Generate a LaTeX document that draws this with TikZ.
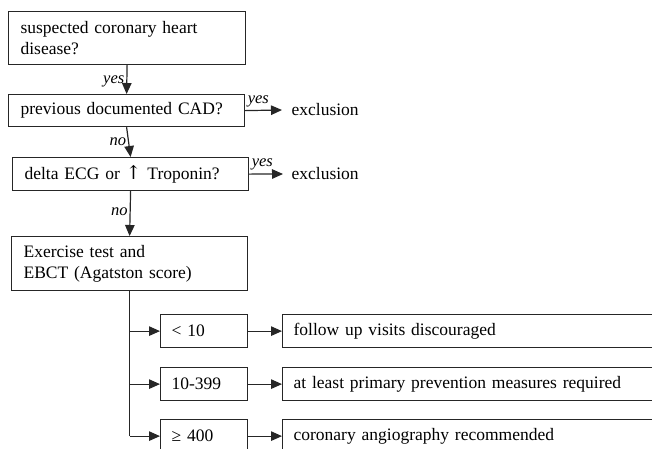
\documentclass[tikz,border=0pt]{standalone}
\usepackage{fontspec}
\setmainfont{Liberation Serif}
\newfontfamily\arrowfont{DejaVu Serif}
\usetikzlibrary{arrows.meta}
\begin{document}
\begin{tikzpicture}[x=1pt,y=-1pt,
  font=\fontsize{17.5}{21}\selectfont,
  line width=1.2pt, draw=black!85,
  box/.style={draw=black!85, line width=1.2pt, anchor=north west, inner xsep=11pt, inner ysep=0pt, align=left},
  arr/.style={draw=black!85, line width=1.2pt, -{Triangle[length=11pt,width=9.5pt]}},
  lab/.style={font=\fontsize{16.5}{18}\selectfont\itshape, inner sep=2pt},
  plain/.style={anchor=west, inner sep=0pt}]
\useasboundingbox (0,0) rectangle (652,448);
\node[box, minimum width=237pt, minimum height=53pt, text width=213pt] (b1) at (8,11) {suspected coronary heart\\disease?};
\node[box, minimum width=236pt, minimum height=32pt, text width=212pt] (b2) at (8,94) {previous documented CAD?};
\node[box, minimum width=236pt, minimum height=33pt, text width=212pt] (b3) at (12,157) {delta ECG or {\arrowfont\fontsize{19}{21}\selectfont ↑} Troponin?};
\node[box, minimum width=236pt, minimum height=54pt, text width=212pt] (b4) at (11,236) {Exercise test and\\EBCT (Agatston score)};
\node[box, minimum width=87pt, minimum height=33pt, text width=65pt] (s1) at (160,314) {< 10};
\node[box, minimum width=87pt, minimum height=33pt, text width=65pt] (s2) at (160,367) {10-399};
\node[box, minimum width=87pt, minimum height=33pt, text width=65pt] (s3) at (160,419) {≥ 400};
\node[box, minimum width=400pt, minimum height=33pt, text width=378pt] (r1) at (282,314) {follow up visits discouraged};
\node[box, minimum width=400pt, minimum height=33pt, text width=378pt] (r2) at (282,367) {at least primary prevention measures required};
\node[box, minimum width=400pt, minimum height=33pt, text width=378pt] (r3) at (282,419) {coronary angiography recommended};
\node[plain] (e1) at (291,110) {exclusion};
\node[plain] (e2) at (291,174) {exclusion};
\draw[arr] (b1.south) -- node[lab, left, yshift=-2pt] {yes} (b2.north);
\draw[arr] (b2.south) -- node[lab, left] {no} (b3.north);
\draw[arr] (b3.south) -- node[lab, left, pos=0.45] {no} (b4.north);
\draw[arr] (b2.east) -- node[lab, pos=0, anchor=south west, yshift=1pt] {yes} ([xshift=-9pt]e1.west);
\draw[arr] (b3.east) -- node[lab, pos=0, anchor=south west, yshift=1pt] {yes} ([xshift=-8pt]e2.west);
\draw (b4.south) -- (b4.south |- s3.west);
\draw[arr] (b4.south |- s1.west) -- (s1.west);
\draw[arr] (b4.south |- s2.west) -- (s2.west);
\draw[arr] (b4.south |- s3.west) -- (s3.west);
\draw[arr] (s1.east) -- (r1.west);
\draw[arr] (s2.east) -- (r2.west);
\draw[arr] (s3.east) -- (r3.west);
\end{tikzpicture}
\end{document}
